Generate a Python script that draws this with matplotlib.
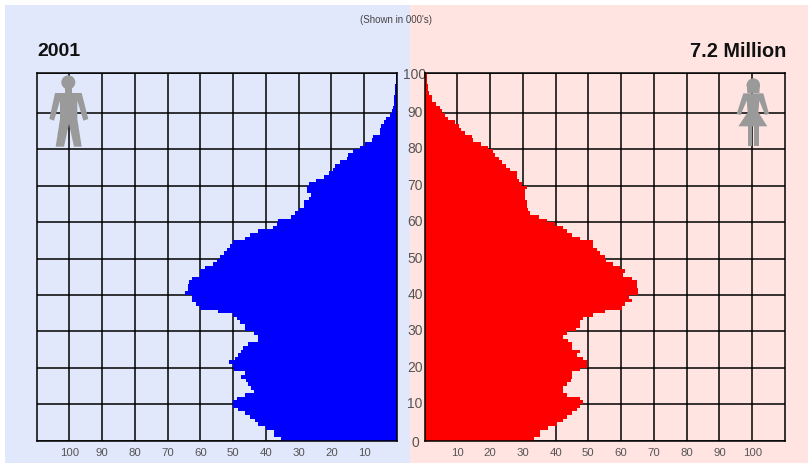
import matplotlib

matplotlib.use("Agg")
import matplotlib.pyplot as plt
import numpy as np
from matplotlib.patches import Circle, Polygon, Rectangle
from matplotlib.transforms import Affine2D

W, H, DPI = 808, 464, 100

# one value per single year of age, 0 to 100, in thousands
male = [
    35.3, 37.6, 37.6, 39.9, 42.4, 43.4, 45.0, 46.5, 48.5, 50.0,
    50.0, 48.8, 46.5, 43.7, 44.6, 45.5, 46.0, 47.5, 46.5, 49.8,
    50.0, 51.4, 49.5, 48.5, 47.5, 47.0, 45.5, 42.4, 42.4, 43.7,
    46.5, 46.5, 47.8, 48.8, 50.0, 54.6, 60.0, 61.3, 62.5, 62.5,
    64.8, 63.8, 63.8, 63.5, 62.5, 60.2, 60.0, 58.7, 56.2, 54.8,
    54.1, 52.9, 51.9, 51.0, 50.0, 46.5, 45.0, 42.3, 37.7, 36.7,
    36.2, 32.4, 31.1, 30.0, 28.5, 28.5, 27.0, 26.2, 27.5, 27.5,
    27.0, 24.7, 22.4, 20.9, 19.4, 18.9, 17.3, 15.3, 14.8, 13.3,
    11.2, 9.7, 7.6, 7.3, 5.3, 5.3, 4.8, 4.1, 3.3, 2.2,
    1.5, 1.2, 1.0, 0.9, 0.8, 0.7, 0.6, 0.5, 0.4, 0.3,
    0.3,
]
female = [
    33.5, 35.3, 35.3, 37.6, 40.3, 42.4, 43.4, 44.9, 46.4, 47.5,
    48.5, 47.5, 43.4, 42.4, 42.4, 43.4, 44.7, 45.1, 45.1, 47.5,
    49.5, 49.5, 48.5, 46.4, 47.5, 45.1, 45.1, 43.9, 42.4, 43.4,
    46.1, 47.5, 47.5, 48.5, 51.3, 55.1, 60.2, 61.2, 63.4, 62.5,
    65.2, 65.2, 64.7, 64.7, 63.4, 60.5, 61.2, 59.7, 57.6, 55.3,
    55.1, 53.6, 52.5, 51.3, 51.3, 47.5, 44.9, 43.4, 42.4, 39.8,
    37.3, 34.8, 32.2, 31.7, 31.2, 31.2, 30.7, 30.7, 30.7, 31.2,
    29.7, 28.7, 28.2, 28.2, 26.1, 24.9, 23.6, 22.6, 21.5, 20.8,
    19.5, 17.3, 14.9, 14.4, 12.4, 11.2, 10.4, 9.3, 7.3, 6.3,
    5.3, 4.6, 3.6, 2.2, 2.2, 1.4, 1.2, 1.2, 0.9, 0.7,
    0.7,
]
x_ticks = [10, 20, 30, 40, 50, 60, 70, 80, 90, 100]
age_labels = ["0", "10", "20", "30", "40", "50", "60", "70", "80", "90", "100"]
year_label = "2001"
total_label = "7.2 Million"
unit_label = "(Shown in 000's)"

plt.rcParams["font.family"] = ["Liberation Sans", "DejaVu Sans"]

ages = np.arange(len(male))
age_ticks = [0, 10, 20, 30, 40, 50, 60, 70, 80, 90, 101]


def box(x0, y0, x1, y1):
    return [x0 / W, 1 - y1 / H, (x1 - x0) / W, (y1 - y0) / H]


def style_panel(ax, values, color, xlim):
    ax.set_facecolor("none")
    ax.barh(ages, values, height=1.0, align="edge", color=color, linewidth=0, zorder=3)
    ax.set_xlim(*xlim)
    ax.set_ylim(0, 101)
    ax.set_xticks(x_ticks)
    ax.set_yticks(age_ticks)
    ax.grid(True, color="black", linewidth=1.1, zorder=1)
    ax.set_axisbelow(True)
    ax.tick_params(axis="x", length=0, pad=5, labelsize=8.2, labelcolor="#555555")
    for s in ax.spines.values():
        s.set_linewidth(1.1)
        s.set_zorder(4)


fig = plt.figure(figsize=(W / DPI, H / DPI), dpi=DPI, facecolor="white")
fig.add_artist(Rectangle((5 / W, 0), 405 / W, 1 - 6 / H, color="#E1E8FC", lw=0, zorder=-2))
fig.add_artist(Rectangle((410 / W, 0), 398 / W, 1 - 6 / H, color="#FFE4E1", lw=0, zorder=-2))

ax_m = fig.add_axes(box(36.5, 74, 397, 441.5))
style_panel(ax_m, male, "#0000FF", (110, 0))
ax_m.yaxis.tick_right()
ax_m.set_yticklabels(age_labels, ha="center", fontsize=10, color="#555555")
ax_m.tick_params(axis="y", length=0, pad=13)

# the 10 to 90 labels sit a little above their grid lines
for lab in ax_m.get_yticklabels()[1:-1]:
    lab.set_transform(lab.get_transform() + Affine2D().translate(0, 2.5))

ax_f = fig.add_axes(box(424.5, 74, 785, 441.5))
style_panel(ax_f, female, "#FF0000", (0, 110))
ax_f.tick_params(axis="y", labelleft=False, length=0)

fig.text(37 / W, 1 - 52 / H, year_label, fontsize=14, fontweight="bold", color="#111111",
         ha="left", va="center")
fig.text(786 / W, 1 - 52 / H, total_label, fontsize=14.3, fontweight="bold", color="#111111",
         ha="right", va="center")
fig.text(395.5 / W, 1 - 20 / H, unit_label, fontsize=7, color="#444444", ha="center", va="center")

# icons are traced in screen pixels times 3, y going down
px = Affine2D().scale(1, -1).translate(0, H)
grey = "#9A9A9A"


def icon(ax, pts, head, r):
    for p in pts:
        ax.add_patch(Polygon(np.array(p) / 3, closed=True, color=grey, lw=0,
                             transform=px, clip_on=False, zorder=5))
    ax.add_patch(Circle(np.array(head) / 3, r / 3, color=grey, lw=0,
                        transform=px, clip_on=False, zorder=5))


man = [[(165, 282), (245, 282), (265, 360), (250, 365), (232, 305), (232, 360), (245, 443),
        (222, 443), (207, 375), (192, 443), (167, 443), (180, 360), (180, 305), (162, 365),
        (148, 360)],
       [(195, 260), (215, 260), (215, 285), (195, 285)]]
icon(ax_m, man, (205, 250), 21)

woman = [[(2290, 283), (2307, 345), (2295, 348), (2278, 305), (2275, 340), (2302, 382),
          (2215, 382), (2243, 340), (2240, 305), (2222, 348), (2210, 345), (2230, 283)],
         [(2244, 380), (2257, 380), (2257, 440), (2244, 440)],
         [(2263, 380), (2276, 380), (2276, 440), (2263, 440)],
         [(2240, 255), (2280, 255), (2278, 282), (2242, 282)]]
icon(ax_f, woman, (2260, 258), 20)

fig.savefig("out.png", dpi=DPI)
